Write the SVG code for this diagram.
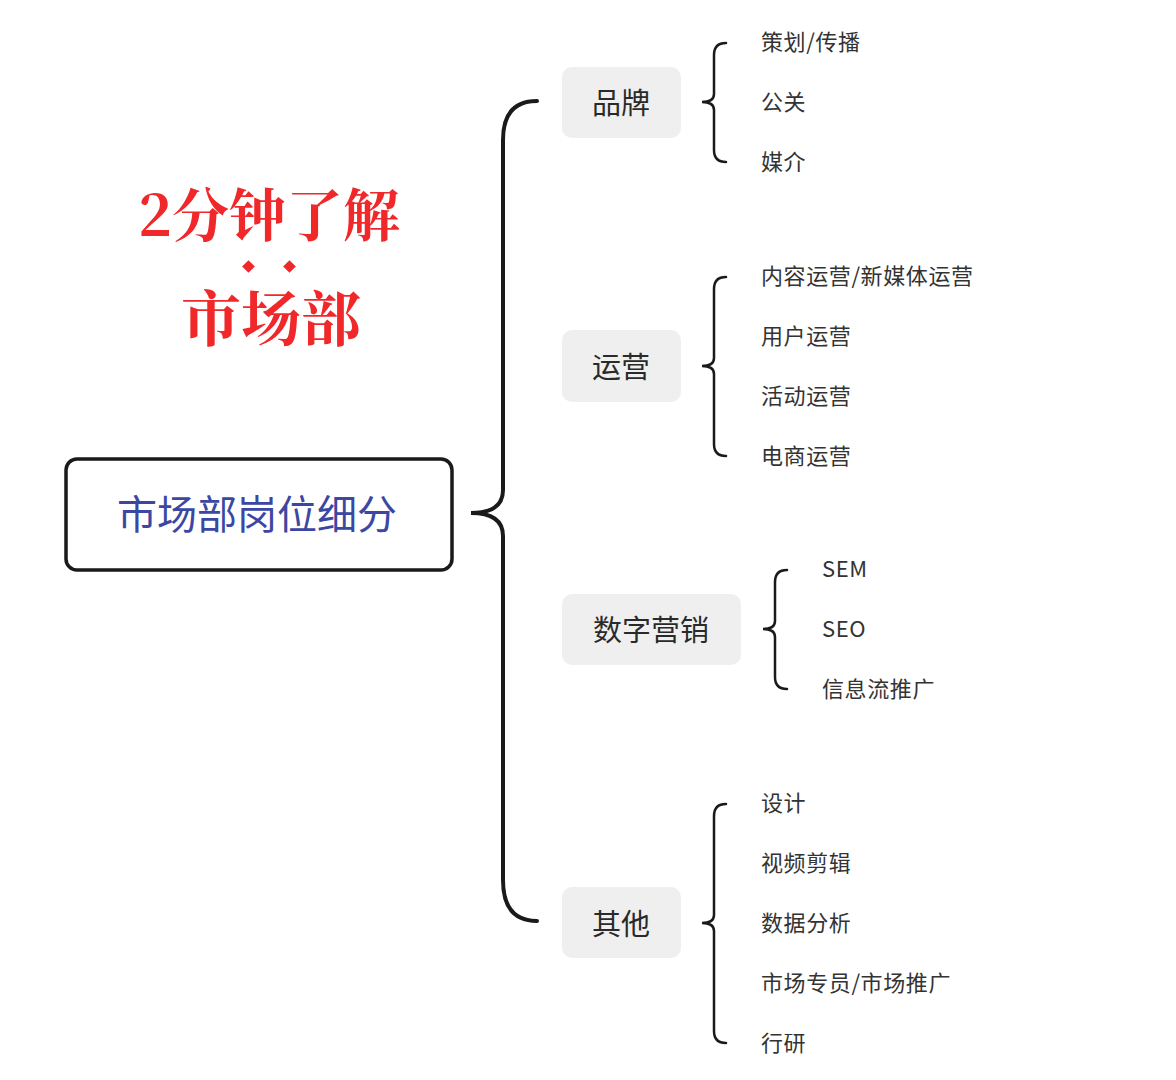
<svg xmlns="http://www.w3.org/2000/svg" width="1176" height="1080" viewBox="0 0 1176 1080">
<style>
.n{fill:#efefef}
.nt{font-family:"Noto Sans CJK SC",sans-serif;font-size:29px;fill:#2a2a2a;text-anchor:middle;dominant-baseline:central}
.lf{font-family:"Noto Sans CJK SC",sans-serif;font-size:22px;letter-spacing:0.6px;fill:#333;dominant-baseline:central}
.br{fill:none;stroke:#1a1a1a;stroke-width:2.5;stroke-linecap:round}
.title{font-family:"Noto Serif CJK SC","Noto Sans CJK SC",serif;font-weight:bold;fill:#f0282a;text-anchor:middle}
</style>
<rect width="1176" height="1080" fill="#fff"/>
<g id="title">
<text class="title" x="269" y="236" font-size="57">2分钟了解</text>
<rect x="244" y="262" width="9" height="9" fill="#f0282a" transform="rotate(45 248.5 266.5)"/>
<rect x="285" y="262" width="9" height="9" fill="#f0282a" transform="rotate(45 289.5 266.5)"/>
<text class="title" x="271" y="341" font-size="60">市场部</text>
</g>
<g id="connectors">
<path d="M537 101 Q503 101 503 140 L503 490 Q503 513 471 513 Q503 513 503 536 L503 880 Q503 921 537 921" fill="none" stroke="#1a1a1a" stroke-width="4" stroke-linecap="round"/>
<path class="br" d="M726 43 Q714 43 714 55 L714 94 Q714 102 702 102 Q714 102 714 110 L714 150 Q714 162 726 162"/>
<path class="br" d="M726 277 Q714 277 714 289 L714 358 Q714 366 702 366 Q714 366 714 374 L714 444 Q714 456 726 456"/>
<path class="br" d="M787 570 Q775 570 775 582 L775 621 Q775 629 763 629 Q775 629 775 637 L775 677 Q775 689 787 689"/>
<path class="br" d="M726 804 Q714 804 714 816 L714 915 Q714 923 702 923 Q714 923 714 931 L714 1031 Q714 1043 726 1043"/>
</g>
<g id="root">
<rect x="66" y="459" width="386" height="111" rx="11" fill="#fff" stroke="#1a1a1a" stroke-width="3.5"/>
<text x="257" y="512" font-family="Noto Sans CJK SC,sans-serif" font-size="40" fill="#3b47a3" text-anchor="middle" dominant-baseline="central">市场部岗位细分</text>
</g>
<g id="brand"><rect class="n" x="562" y="67" width="119" height="71" rx="10"/><text class="nt" x="621" y="101">品牌</text></g>
<g id="ops"><rect class="n" x="562" y="330" width="119" height="72" rx="10"/><text class="nt" x="621" y="365">运营</text></g>
<g id="digital"><rect class="n" x="562" y="594" width="179" height="71" rx="10"/><text class="nt" x="651" y="628">数字营销</text></g>
<g id="other"><rect class="n" x="562" y="887" width="119" height="71" rx="10"/><text class="nt" x="621" y="922">其他</text></g>
<g id="leaves">
<text class="lf" x="761" y="40">策划/传播</text>
<text class="lf" x="761" y="100">公关</text>
<text class="lf" x="761" y="160">媒介</text>
<text class="lf" x="761" y="274">内容运营/新媒体运营</text>
<text class="lf" x="761" y="334">用户运营</text>
<text class="lf" x="761" y="394">活动运营</text>
<text class="lf" x="761" y="454">电商运营</text>
<text class="lf" x="822" y="567">SEM</text>
<text class="lf" x="822" y="627">SEO</text>
<text class="lf" x="822" y="687">信息流推广</text>
<text class="lf" x="761" y="801">设计</text>
<text class="lf" x="761" y="861">视频剪辑</text>
<text class="lf" x="761" y="921">数据分析</text>
<text class="lf" x="761" y="981">市场专员/市场推广</text>
<text class="lf" x="761" y="1041">行研</text>
</g>
</svg>
